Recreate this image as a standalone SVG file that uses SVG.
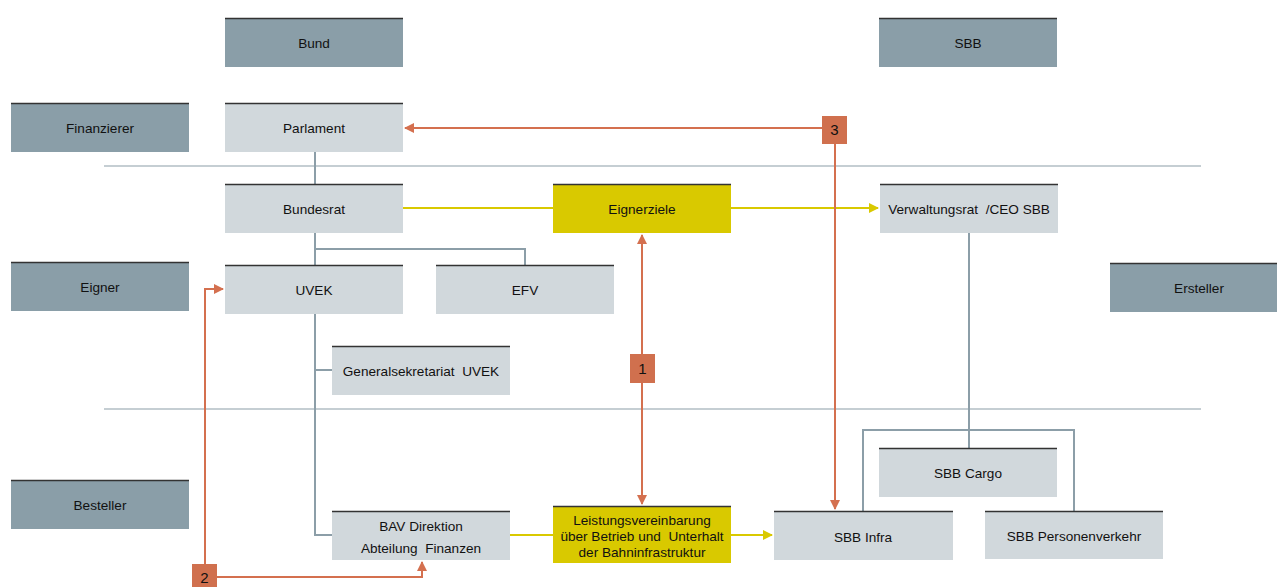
<svg xmlns="http://www.w3.org/2000/svg" width="1277" height="587" viewBox="0 0 1277 587">
<defs>
<style>
.dk{fill:#8a9ea8}
.lt{fill:#d1d8dc}
.yl{fill:#d9c900}
.top{stroke:#333;stroke-width:1.5}
.t{font-family:"Liberation Sans",Arial,sans-serif;font-size:13.6px;fill:#111;text-anchor:middle;white-space:pre}
.g{stroke:#8c9ea8;stroke-width:2;fill:none}
.y{stroke:#d9c900;stroke-width:2;fill:none}
.o{stroke:#d4704f;stroke-width:2;fill:none}
.ob{fill:#d0704e}
.n{font-family:"Liberation Sans",Arial,sans-serif;font-size:15px;fill:#111;text-anchor:middle}
</style>
<marker id="ao" viewBox="0 0 10 10" refX="9" refY="5" markerWidth="5" markerHeight="5" orient="auto"><path d="M0,0L10,5L0,10z" fill="#d4704f"/></marker>
<marker id="ay" viewBox="0 0 10 10" refX="9" refY="5" markerWidth="5" markerHeight="5" orient="auto"><path d="M0,0L10,5L0,10z" fill="#d9c900"/></marker>
</defs>
<g id="separators">
<line x1="104" y1="166" x2="1201" y2="166" stroke="#8c9ea8" stroke-width="1.2"/>
<line x1="104" y1="409" x2="1201" y2="409" stroke="#8c9ea8" stroke-width="1.2"/>
</g>
<g id="connectors">
<path class="g" d="M315,152V184"/>
<path class="g" d="M315,233V265M315,249H525V265"/>
<path class="g" d="M315,314V535H332M315,370H332"/>
<path class="g" d="M969,233V448M863,511V430H1074V511"/>
<path class="y" d="M403,208H553"/>
<path class="y" d="M731,208H878" marker-end="url(#ay)"/>
<path class="y" d="M510,535H553"/>
<path class="y" d="M731,535H772" marker-end="url(#ay)"/>
<path class="o" d="M642,354V235" marker-end="url(#ao)"/>
<path class="o" d="M642,383V504" marker-end="url(#ao)"/>
<path class="o" d="M822,128H405" marker-end="url(#ao)"/>
<path class="o" d="M835,144V509" marker-end="url(#ao)"/>
<path class="o" d="M205,564V289H223" marker-end="url(#ao)"/>
<path class="o" d="M217,577H422V562" marker-end="url(#ao)"/>
</g>
<g id="bund"><rect class="dk" x="225" y="18" width="178" height="49"/><line class="top" x1="225" y1="18.5" x2="403" y2="18.5"/><text class="t" x="314" y="48">Bund</text></g>
<g id="sbb"><rect class="dk" x="879" y="18" width="178" height="49"/><line class="top" x1="879" y1="18.5" x2="1057" y2="18.5"/><text class="t" x="968" y="48">SBB</text></g>
<g id="finanzierer"><rect class="dk" x="11" y="103" width="178" height="49"/><line class="top" x1="11" y1="103.5" x2="189" y2="103.5"/><text class="t" x="100" y="133">Finanzierer</text></g>
<g id="parlament"><rect class="lt" x="225" y="103" width="178" height="49"/><line class="top" x1="225" y1="103.5" x2="403" y2="103.5"/><text class="t" x="314" y="133">Parlament</text></g>
<g id="bundesrat"><rect class="lt" x="225" y="184" width="178" height="49"/><line class="top" x1="225" y1="184.5" x2="403" y2="184.5"/><text class="t" x="314" y="214">Bundesrat</text></g>
<g id="eignerziele"><rect class="yl" x="553" y="184" width="178" height="49"/><line class="top" x1="553" y1="184.5" x2="731" y2="184.5"/><text class="t" x="642" y="214">Eignerziele</text></g>
<g id="verwaltungsrat"><rect class="lt" x="880" y="184" width="178" height="49"/><line class="top" x1="880" y1="184.5" x2="1058" y2="184.5"/><text class="t" x="969" y="214" xml:space="preserve">Verwaltungsrat  /CEO SBB</text></g>
<g id="eigner"><rect class="dk" x="11" y="262" width="178" height="49"/><line class="top" x1="11" y1="262.5" x2="189" y2="262.5"/><text class="t" x="100" y="292">Eigner</text></g>
<g id="uvek"><rect class="lt" x="225" y="265" width="178" height="49"/><line class="top" x1="225" y1="265.5" x2="403" y2="265.5"/><text class="t" x="314" y="295">UVEK</text></g>
<g id="efv"><rect class="lt" x="436" y="265" width="178" height="49"/><line class="top" x1="436" y1="265.5" x2="614" y2="265.5"/><text class="t" x="525" y="295">EFV</text></g>
<g id="ersteller"><rect class="dk" x="1110" y="263" width="167" height="49"/><line class="top" x1="1110" y1="263.5" x2="1277" y2="263.5"/><text class="t" x="1199" y="293">Ersteller</text></g>
<g id="generalsekretariat"><rect class="lt" x="332" y="346" width="178" height="49"/><line class="top" x1="332" y1="346.5" x2="510" y2="346.5"/><text class="t" x="421" y="376" xml:space="preserve">Generalsekretariat  UVEK</text></g>
<g id="sbbcargo"><rect class="lt" x="879" y="448" width="178" height="49"/><line class="top" x1="879" y1="448.5" x2="1057" y2="448.5"/><text class="t" x="968" y="478">SBB Cargo</text></g>
<g id="besteller"><rect class="dk" x="11" y="480" width="178" height="49"/><line class="top" x1="11" y1="480.5" x2="189" y2="480.5"/><text class="t" x="100" y="510">Besteller</text></g>
<g id="bav"><rect class="lt" x="332" y="511" width="178" height="49"/><line class="top" x1="332" y1="511.5" x2="510" y2="511.5"/><text class="t" x="421" y="531">BAV Direktion</text><text class="t" x="421" y="553" xml:space="preserve">Abteilung  Finanzen</text></g>
<g id="leistungsvereinbarung"><rect class="yl" x="553" y="506" width="178" height="57"/><line class="top" x1="553" y1="506.5" x2="731" y2="506.5"/><text class="t" x="642" y="525">Leistungsvereinbarung</text><text class="t" x="642" y="541" xml:space="preserve">über Betrieb und  Unterhalt</text><text class="t" x="642" y="557">der Bahninfrastruktur</text></g>
<g id="sbbinfra"><rect class="lt" x="774" y="511" width="179" height="49"/><line class="top" x1="774" y1="511.5" x2="953" y2="511.5"/><text class="t" x="863" y="542">SBB Infra</text></g>
<g id="sbbpv"><rect class="lt" x="985" y="511" width="178" height="48"/><line class="top" x1="985" y1="511.5" x2="1163" y2="511.5"/><text class="t" x="1074" y="541">SBB Personenverkehr</text></g>
<g id="badge1"><rect class="ob" x="630" y="354" width="25" height="29"/><text class="n" x="642.5" y="374">1</text></g>
<g id="badge2"><rect class="ob" x="192" y="564" width="25" height="23"/><text class="n" x="204.5" y="583">2</text></g>
<g id="badge3"><rect class="ob" x="822" y="116" width="25" height="28"/><text class="n" x="834.5" y="135">3</text></g>
</svg>
